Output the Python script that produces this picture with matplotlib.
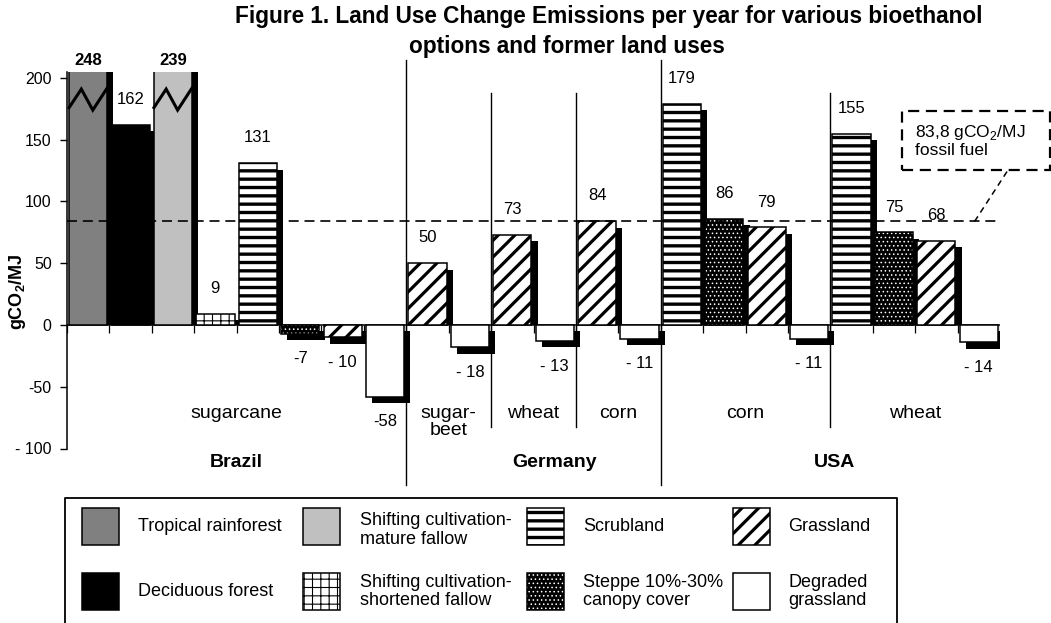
import matplotlib
matplotlib.use("Agg")
import matplotlib.pyplot as plt
from matplotlib import font_manager
from matplotlib.patches import Rectangle
import numpy as np

# Daten aus der Abbildung
countries = ["Brazil", "Germany", "USA"]
crops = ["sugarcane", "sugar-\nbeet", "wheat", "corn", "corn", "wheat"]
crop_country = [0, 1, 1, 1, 2, 2]

land_uses = ["Tropical rainforest", "Deciduous forest",
             "Shifting cultivation-\nmature fallow",
             "Shifting cultivation-\nshortened fallow",
             "Scrubland", "Steppe 10%-30%\ncanopy cover",
             "Grassland", "Degraded\ngrassland"]

# pro Anbaukultur: Landnutzung (Index in land_uses) und Emissionen
crop_land_use = [
    [0, 1, 2, 3, 4, 5, 6, 7],
    [6, 7],
    [6, 7],
    [6, 7],
    [4, 5, 6, 7],
    [4, 5, 6, 7],
]
crop_values = [
    [248, 162, 239, 9, 131, -7, -10, -58],
    [50, -18],
    [73, -13],
    [84, -11],
    [179, 86, 79, -11],
    [155, 75, 68, -14],
]
crop_value_labels = [
    ["248", "162", "239", "9", "131", "-7", "- 10", "-58"],
    ["50", "- 18"],
    ["73", "- 13"],
    ["84", "- 11"],
    ["179", "86", "79", "- 11"],
    ["155", "75", "68", "- 14"],
]
fossil_ref = 83.8
y_ticks = [200, 150, 100, 50, 0, -50, -100]
y_tick_labels = ["200", "150", "100", "50", "0", "-50", "- 100"]

# Legendenreihenfolge (2 Zeilen x 4 Spalten)
legend_order = [[0, 2, 4, 6], [1, 3, 5, 7]]

W, H, DPI = 1051, 623, 100
FONT = "Liberation Sans"
try:
    font_manager.findfont("Liberation Sans Narrow", fallback_to_default=False)
    NARROW = "Liberation Sans Narrow"
except ValueError:
    NARROW = FONT
plt.rcParams["font.family"] = [FONT, "DejaVu Sans"]
plt.rcParams["mathtext.fontset"] = "custom"
plt.rcParams["mathtext.rm"] = FONT
plt.rcParams["mathtext.bf"] = FONT + ":bold"

STYLES = {
    0: dict(facecolor="#808080", edgecolor="black"),
    1: dict(facecolor="black", edgecolor="black"),
    2: dict(facecolor="#c0c0c0", edgecolor="black"),
    3: dict(facecolor="white", edgecolor="black", hatch="++", hlw=0.8),
    4: dict(facecolor="white", edgecolor="black", hatch="--", hlw=2.4),
    5: dict(facecolor="black", edgecolor="white", hatch="....", hlw=0.6),
    6: dict(facecolor="white", edgecolor="black", hatch="//", hlw=2.3),
    7: dict(facecolor="white", edgecolor="black"),
}


def styled_patch(target, lu, x, y, w, h, zorder=3, clip=True):
    st = dict(STYLES[lu])
    hlw = st.pop("hlw", 1.0)
    with plt.rc_context({"hatch.linewidth": hlw}):
        p = Rectangle((x, y), w, h, linewidth=0 if lu == 5 else 1.1,
                      zorder=zorder, **st)
    if hasattr(p, "set_hatch_linewidth"):
        p.set_hatch_linewidth(hlw)
    target.add_patch(p)
    p.set_clip_on(clip)
    if lu == 5:
        o = Rectangle((x, y), w, h, fill=False, edgecolor="black",
                      linewidth=1.1, zorder=zorder + 0.1)
        target.add_patch(o)
        o.set_clip_on(clip)
    return p


fig = plt.figure(figsize=(W / DPI, H / DPI), dpi=DPI)
ax = fig.add_axes([67 / W, 1 - 448.5 / H, 933 / W, (448.5 - 71.8) / H])
ax.set_xlim(0, 22)
ax.set_ylim(-100, 205)
for s in ["top", "right", "bottom"]:
    ax.spines[s].set_visible(False)
ax.spines["left"].set_linewidth(1.1)
ax.set_xticks([])
ax.set_yticks(y_ticks)
ax.set_yticklabels(y_tick_labels, fontsize=11.5)
ax.tick_params(axis="y", length=5, width=1, pad=6)

bar_w = 0.9
dx, dy = 0.145, -5.2   # Schatten-Versatz
slot = 0
crop_ranges = []
for ci, (lus, vals, labs) in enumerate(zip(crop_land_use, crop_values, crop_value_labels)):
    start = slot
    for lu, v, lab in zip(lus, vals, labs):
        x0 = slot + 0.05
        # Schatten: positive Balken enden an der Nulllinie
        if v >= 0:
            sh_bottom, sh_height = 0, v + dy
        else:
            sh_bottom, sh_height = dy, v
        ax.add_patch(Rectangle((x0 + dx, sh_bottom), bar_w, sh_height,
                               facecolor="black", edgecolor="none", zorder=2))
        styled_patch(ax, lu, x0, 0, bar_w, v, zorder=3)
        xc = x0 + bar_w / 2
        if v > 205:
            zx = x0 + np.array([0, 0.32, 0.62, 1.0]) * bar_w
            ax.plot(zx, [176, 191, 174, 192], color="black", lw=2.2,
                    zorder=6, solid_joinstyle="miter")
            ax.text(xc, 214.5, lab, ha="center", va="center",
                    fontsize=12, fontweight="bold")
        elif v >= 0:
            ax.text(xc, v + 20.5, lab, ha="center", va="center",
                    fontsize=12, family=[NARROW, FONT])
        else:
            ax.text(xc, v - 20.5, lab, ha="center", va="center",
                    fontsize=12, family=[NARROW, FONT])
        slot += 1
    crop_ranges.append((start, slot))

# Nulllinie und Teilstriche
ax.axhline(0, xmin=0, xmax=1, color="black", lw=1.1, zorder=2.5)
ax.vlines(np.arange(0, 23), -6.5, 0, color="black", lw=0.9, zorder=1)

# Trennlinien
for i in range(1, len(crop_ranges)):
    xb = crop_ranges[i][0]
    if crop_country[i] != crop_country[i - 1]:
        y_lo, y_hi = -129.5, 214.5
    else:
        y_lo, y_hi = -82.5, 188
    ax.plot([xb, xb], [y_lo, y_hi], color="black", lw=1.0,
            clip_on=False, zorder=4)

# fossile Referenz
ax.plot([0, 21.93], [fossil_ref, fossil_ref], color="black", lw=1.2,
        dashes=(6, 3.5), zorder=5, clip_on=False)
box = Rectangle((19.69, 125.5), 3.49, 47.8, fill=False, edgecolor="black",
                lw=1.6, linestyle=(0, (5, 3)), clip_on=False, zorder=5)
ax.add_patch(box)
ax.text(20.0, 149.5, "83,8 gCO$_2$/MJ\nfossil fuel", ha="left", va="center",
        fontsize=12.5, linespacing=1.05)
ax.plot([21.4, 22.19], [fossil_ref, 125.5], color="black", lw=1.1,
        dashes=(4, 3), clip_on=False, zorder=5)

# Beschriftungen Kulturen und Laender
for (a, b), name in zip(crop_ranges, crops):
    ax.text((a + b) / 2, -64.5, name, ha="center", va="top", fontsize=14,
            linespacing=1.0)
country_x = [4.0, 11.5, 18.1]
for cx, name in zip(country_x, countries):
    ax.text(cx, -111.5, name, ha="center", va="center", fontsize=14,
            fontweight="bold")

# Overlay fuer Titel, y-Achsentitel und Legende (Pixelkoordinaten)
ov = fig.add_axes([0, 0, 1, 1])
ov.set_xlim(0, W)
ov.set_ylim(H, 0)
ov.axis("off")

ov.text(609, 17, "Figure 1. Land Use Change Emissions per year for various bioethanol",
        ha="center", va="center", fontsize=16.3, fontweight="bold")
ov.text(567, 47, "options and former land uses", ha="center", va="center",
        fontsize=16.3, fontweight="bold")
ov.text(17, 292, r"gCO$_\mathbf{2}$/MJ", rotation=90, ha="center", va="center",
        fontsize=13, fontweight="bold")

# Legende
ov.plot([65, 65, 897, 897], [630, 498, 498, 630], color="black", lw=1.3,
        clip_on=False)
col_patch_x = [82, 303, 527, 733]
col_text_x = [138, 360, 583, 788]
row_top = [508, 573]
for r, row in enumerate(legend_order):
    for c, lu in enumerate(row):
        styled_patch(ov, lu, col_patch_x[c], row_top[r], 37, 37, zorder=3,
                     clip=False)
        two = "\n" in land_uses[lu]
        ty = row_top[r] + 18.5 + (3.5 if (two and r == 0) else 0)
        ov.text(col_text_x[c], ty, land_uses[lu], ha="left", va="center",
                fontsize=13, linespacing=1.15)

fig.savefig("out.png", dpi=DPI)
